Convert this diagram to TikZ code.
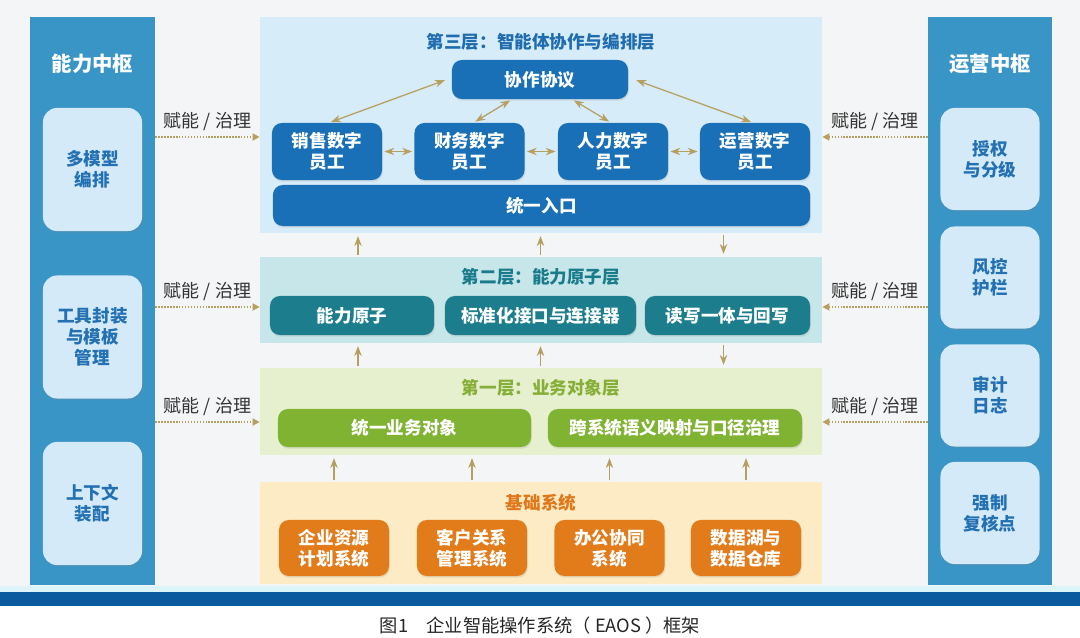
\documentclass[tikz,border=0pt]{standalone}
\usepackage{fontspec}
\setmainfont{Noto Sans CJK SC}
\usetikzlibrary{arrows.meta, positioning, shadows}

\definecolor{pageGray}{HTML}{F4F5F6}
\definecolor{hubBlue}{HTML}{3A95C7}
\definecolor{hubBox}{HTML}{D5EAF8}
\definecolor{hubText}{HTML}{2371B3}
\definecolor{bandBlue}{HTML}{0B5A9F}
\definecolor{stripCyan}{HTML}{DCF4FA}
\definecolor{arrowGold}{HTML}{B5A061}
\definecolor{lthreeBg}{HTML}{D7ECF9}
\definecolor{lthreeBox}{HTML}{1A70B7}
\definecolor{lthreeText}{HTML}{1F6CAF}
\definecolor{ltwoBg}{HTML}{C6E6EA}
\definecolor{ltwoBox}{HTML}{1C7E8D}
\definecolor{ltwoText}{HTML}{1A7C8A}
\definecolor{loneBg}{HTML}{E7F0CE}
\definecolor{loneBox}{HTML}{80B331}
\definecolor{loneText}{HTML}{86AF38}
\definecolor{baseBg}{HTML}{FCEBC5}
\definecolor{baseBox}{HTML}{E27B19}
\definecolor{baseText}{HTML}{E0781A}

\newcommand{\fntBox}{\fontsize{12.5}{15}\selectfont\bfseries}
\newcommand{\fntHub}{\fontsize{14.5}{17}\selectfont\bfseries}
\newcommand{\fntLabel}{\fontsize{12.8}{15}\selectfont}
\newcommand{\fntCap}{\fontsize{13}{15}\selectfont}

\begin{document}
\begin{tikzpicture}[
    x=0.025cm, y=-0.025cm,
    >=Stealth,
    layer/.style={inner sep=0pt, minimum width=14.05cm},
    title/.style={font=\fntBox, inner sep=0pt},
    box/.style={rounded corners=7pt, inner sep=0pt, text=white, font=\fntBox, align=center,
      drop shadow={opacity=0.18, shadow xshift=0.6pt, shadow yshift=-1.2pt}},
    empbox/.style={box, fill=lthreeBox, minimum width=2.75cm, minimum height=1.425cm},
    atombox/.style={box, fill=ltwoBox, minimum height=0.975cm},
    objbox/.style={box, fill=loneBox, minimum height=0.95cm},
    sysbox/.style={box, fill=baseBox, minimum width=2.75cm, minimum height=1.4cm},
    hub/.style={fill=hubBlue, inner sep=0pt, minimum height=14.2cm},
    hubbox/.style={rounded corners=10pt, fill=hubBox, text=hubText, font=\fntBox, align=center,
      inner sep=0pt, minimum width=2.475cm,
      drop shadow={opacity=0.2, shadow xshift=0.6pt, shadow yshift=-1.2pt}},
    dbl/.style={<->, arrowGold, line width=0.9pt, shorten <=1.5pt, shorten >=1.5pt},
    flow/.style={->, arrowGold, line width=0.9pt, shorten <=1pt, shorten >=2pt},
    gov/.style={arrowGold, line width=1.1pt, densely dotted, -{Triangle[length=5pt, width=5pt]}},
    govlabel/.style={font=\fntLabel, text=black!80, inner sep=1pt}
  ]
  \useasboundingbox (0,0) rectangle (1080,638);

  % ---- page ----
  \fill[pageGray] (0,0) rectangle (1080,586);
  \fill[stripCyan] (0,586) rectangle (1080,592);
  \fill[bandBlue] (0,592) rectangle (1080,606);

  % ---- side hubs ----
  \node[hub, minimum width=3.125cm] (hubL) at (92.5,301) {};
  \node[font=\fntHub, text=white] (hubLtitle) at (92.5,64) {能力中枢};
  \node[hubbox, minimum height=3.075cm] (multi) at (92.5,169.5) {多模型\\编排};
  \node[hubbox, minimum height=3.075cm] (tools) at (92.5,337) {工具封装\\与模板\\管理};
  \node[hubbox, minimum height=3.075cm] (context) at (92.5,503.5) {上下文\\装配};

  \node[hub, minimum width=3.1cm] (hubR) at (990,301) {};
  \node[font=\fntHub, text=white] (hubRtitle) at (990,64) {运营中枢};
  \node[hubbox, minimum height=2.55cm] (auth) at (990,159) {授权\\与分级};
  \node[hubbox, minimum height=2.55cm] (risk) at (990,277.5) {风控\\护栏};
  \node[hubbox, minimum height=2.55cm] (audit) at (990,395.5) {审计\\日志};
  \node[hubbox, minimum height=2.55cm] (review) at (990,513) {强制\\复核点};

  % ---- layers ----
  \node[layer, fill=lthreeBg, minimum height=5.4cm] (layerC) at (541,125) {};
  \node[layer, fill=ltwoBg, minimum height=2.15cm] (layerB) at (541,300) {};
  \node[layer, fill=loneBg, minimum height=2.175cm] (layerA) at (541,411.5) {};
  \node[layer, fill=baseBg, minimum height=2.55cm] (layerBase) at (541,533) {};

  % Layer 3
  \node[title, text=lthreeText] (titleC) at (541,42) {第三层：智能体协作与编排层};
  \node[box, fill=lthreeBox, minimum width=4.4cm, minimum height=0.975cm] (proto) at (540,79.5) {协作协议};
  \node[empbox] (sales) at (327,151.5) {销售数字\\员工};
  \node[empbox] (fin) at (469.5,151.5) {财务数字\\员工};
  \node[empbox] (hr) at (613,151.5) {人力数字\\员工};
  \node[empbox] (ops) at (755,151.5) {运营数字\\员工};
  \node[box, fill=lthreeBox, minimum width=13.425cm, minimum height=1.025cm] (entry) at (541.5,205.5) {统一入口};

  \draw[dbl] ([xshift=0.05cm]sales.north) -- ([xshift=-0.12cm]proto.west);
  \draw[dbl] ([xshift=0.1cm]fin.north) -- ([xshift=-0.7cm]proto.south);
  \draw[dbl] ([xshift=-0.05cm]hr.north) -- ([xshift=0.8cm]proto.south);
  \draw[dbl] ([xshift=-0.05cm]ops.north) -- ([xshift=0.15cm]proto.east);
  \draw[dbl] (sales) -- (fin);
  \draw[dbl] (fin) -- (hr);
  \draw[dbl] (hr) -- (ops);

  % Layer 2
  \node[title, text=ltwoText] (titleB) at (541,277) {第二层：能力原子层};
  \node[atombox, minimum width=4.1cm] (atom) at (352,315.5) {能力原子};
  \node[atombox, minimum width=4.775cm] (iface) at (540.5,315.5) {标准化接口与连接器};
  \node[atombox, minimum width=4.125cm] (rw) at (727.5,315.5) {读写一体与回写};

  % Layer 1
  \node[title, text=loneText] (titleA) at (541,388) {第一层：业务对象层};
  \node[objbox, minimum width=6.325cm] (bizobj) at (404.5,428) {统一业务对象};
  \node[objbox, minimum width=6.35cm] (semantic) at (675,428) {跨系统语义映射与口径治理};

  % Base
  \node[title, text=baseText] (titleBase) at (541,503) {基础系统};
  \node[sysbox] (erp) at (334,548) {企业资源\\计划系统};
  \node[sysbox] (crm) at (472,548) {客户关系\\管理系统};
  \node[sysbox] (oa) at (609.5,548) {办公协同\\系统};
  \node[sysbox] (lake) at (746,548) {数据湖与\\数据仓库};

  % Between layers
  \draw[flow] ([xshift=0.15cm]atom.north |- layerB.north) -- ([xshift=0.15cm]atom.north |- layerC.south);
  \draw[flow] (iface.north |- layerB.north) -- (iface.north |- layerC.south);
  \draw[flow] ([xshift=-0.1cm]rw.north |- layerC.south) -- ([xshift=-0.1cm]rw.north |- layerB.north);
  \draw[flow] ([xshift=0.15cm]atom.south |- layerA.north) -- ([xshift=0.15cm]atom.south |- layerB.south);
  \draw[flow] (iface.south |- layerA.north) -- (iface.south |- layerB.south);
  \draw[flow] ([xshift=-0.1cm]rw.south |- layerB.south) -- ([xshift=-0.1cm]rw.south |- layerA.north);
  \foreach \s in {erp, crm, oa, lake}
    \draw[flow] (\s.north |- layerBase.north) -- (\s.north |- layerA.south);

  % Governance
  \coordinate (govC) at (0,137);
  \coordinate (govB) at (0,307);
  \coordinate (govA) at (0,422);
  \foreach \g/\l in {govC/layerC, govB/layerB, govA/layerA} {
    \draw[gov] (hubL.east |- \g) -- (\l.west |- \g) node[govlabel, midway, above=3pt] {赋能 / 治理};
    \draw[gov] (hubR.west |- \g) -- (\l.east |- \g) node[govlabel, midway, above=3pt] {赋能 / 治理};
  }

  % Caption
  \node[font=\fntCap, text=black!85] (caption) at (540,626) {图1　企业智能操作系统（ EAOS ）框架};
\end{tikzpicture}
\end{document}
